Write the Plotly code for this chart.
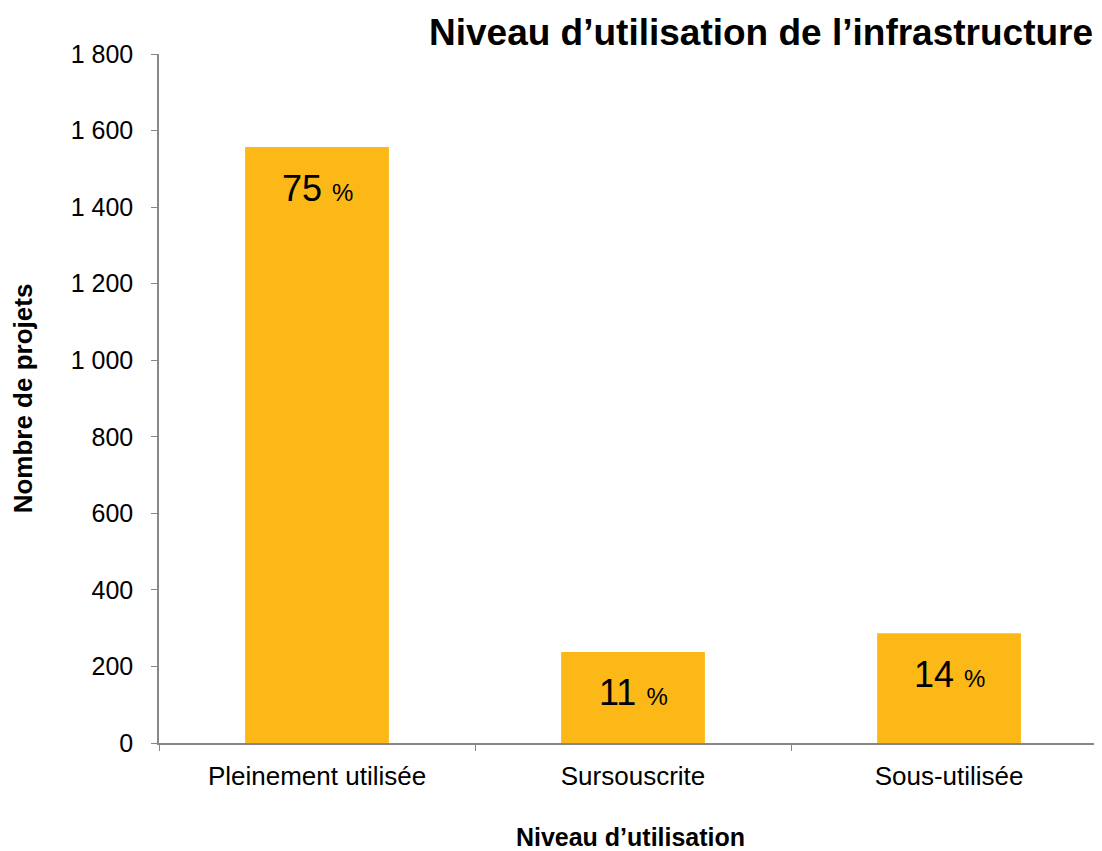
import plotly.graph_objects as go

categories = ["Pleinement utilisée", "Sursouscrite", "Sous-utilisée"]
nb_projets = [1557, 238, 287]
pourcentages = [75, 11, 14]
y_ticks = [0, 200, 400, 600, 800, 1000, 1200, 1400, 1600, 1800]

font = "Liberation Sans, Arial, sans-serif"
grey = "#878787"

fig = go.Figure()
fig.add_trace(go.Bar(
    x=categories, y=nb_projets,
    marker=dict(color="#FBB817", line=dict(width=0)),
    width=0.455, hoverinfo="x+y",
))

# percentage labels inside the top of each bar
for cat, val, pct in zip(categories, nb_projets, pourcentages):
    fig.add_annotation(
        x=cat, y=val, xref="x", yref="y",
        text=f"{pct} <span style='font-size:24px'>%</span>",
        showarrow=False, yanchor="middle", yshift=-41,
        font=dict(family=font, size=36, color="#000000"),
    )

fig.add_annotation(
    text="<b>Niveau d’utilisation de l’infrastructure</b>",
    xref="paper", yref="paper", x=0.9926, y=1.031,
    xanchor="right", yanchor="middle", showarrow=False,
    font=dict(family=font, size=37, color="#000000"),
)

# page body adds an 8px margin, so the figure is sized to fit the window
fig.update_layout(
    width=1094, height=843,
    margin=dict(l=151, r=0, t=46, b=108),
    paper_bgcolor="white", plot_bgcolor="white",
    separators=", ",
    showlegend=False,
    font=dict(family=font, size=25, color="#000000"),
    xaxis=dict(
        range=[-0.5, 2.484],
        showline=True, linecolor=grey, linewidth=1.5,
        ticks="outside", tickson="boundaries", ticklen=6, tickcolor=grey,
        tickfont=dict(size=26), ticklabelstandoff=9,
        title=dict(text="<b>Niveau d’utilisation</b>", font=dict(size=25), standoff=39),
        showgrid=False, zeroline=False, automargin=False,
    ),
    yaxis=dict(
        range=[0, 1800], tickvals=y_ticks, tickformat=",d",
        showline=True, linecolor=grey, linewidth=1.5,
        ticks="outside", ticklen=6, tickcolor=grey,
        tickfont=dict(size=25), ticklabelstandoff=13,
        title=dict(text="<b>Nombre de projets</b>", font=dict(size=26), standoff=34),
        showgrid=False, zeroline=False, automargin=False,
    ),
)

fig.write_html("out.html")
